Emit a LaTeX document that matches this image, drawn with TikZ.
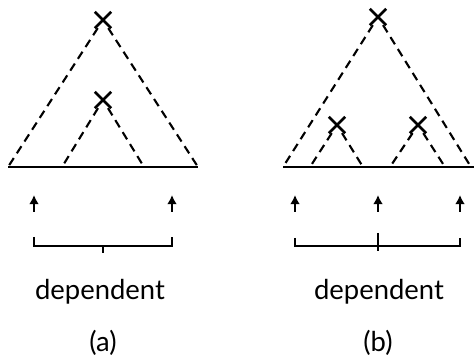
\documentclass[tikz,border=0pt]{standalone}
\usepackage{fontspec}
\setmainfont{Lato}
\usetikzlibrary{arrows.meta,shapes.misc}

\begin{document}
\begin{tikzpicture}[
  x=0.025cm,y=-0.025cm,
  >={Latex[length=6.5pt,width=7pt]},
  cross/.style={draw,cross out,line width=1.9pt,inner sep=0pt,minimum size=0.34cm},
  tri/.style={line width=1.5pt,dash pattern=on 6pt off 4pt},
  base/.style={line width=1.8pt},
  up/.style={->,line width=1.6pt},
  brace/.style={line width=1.5pt},
  label/.style={anchor=base,font=\fontsize{19.5}{22}\selectfont}
]
  \useasboundingbox (0,0) rectangle (474,360);

  % (a): one constituent inside another
  \node[cross] (a-top) at (103,20) {};
  \node[cross] (a-in) at (103,100) {};
  \coordinate (a-l) at (8,167);
  \coordinate (a-r) at (198,167);
  \coordinate (a-il) at (62,167);
  \coordinate (a-ir) at (144,167);
  \draw[base] (a-l) -- (a-r);
  \draw[tri] (a-top) -- (a-l);
  \draw[tri] (a-top) -- (a-r);
  \draw[tri] (a-in) -- (a-il);
  \draw[tri] (a-in) -- (a-ir);

  \coordinate (a-u1) at (34,212);
  \coordinate (a-u2) at (172,212);
  \coordinate (a-v1) at (34,195);
  \coordinate (a-v2) at (172,195);
  \draw[up] (a-u1) -- (a-v1);
  \draw[up] (a-u2) -- (a-v2);
  \draw[brace] (34,237) -- (34,246) -- (172,246) -- (172,237);
  \draw[brace] (103,246) -- (103,253);
  \node[label] (a-dep) at (100,300) {dependent};
  \node[label] (a-cap) at (103,351) {(a)};

  % (b): two constituents side by side
  \node[cross] (b-top) at (378,17) {};
  \node[cross] (b-in1) at (337,125) {};
  \node[cross] (b-in2) at (418,125) {};
  \coordinate (b-l) at (283,167);
  \coordinate (b-r) at (471,167);
  \coordinate (b-1l) at (310,167);
  \coordinate (b-1r) at (363,167);
  \coordinate (b-2l) at (390,167);
  \coordinate (b-2r) at (445,167);
  \draw[base] (b-l) -- (474,167);
  \draw[tri] (b-top) -- (b-l);
  \draw[tri] (b-top) -- (b-r);
  \draw[tri] (b-in1) -- (b-1l);
  \draw[tri] (b-in1) -- (b-1r);
  \draw[tri] (b-in2) -- (b-2l);
  \draw[tri] (b-in2) -- (b-2r);

  \foreach \x [count=\i] in {295,378,460} {
    \coordinate (b-u\i) at (\x,212);
    \coordinate (b-v\i) at (\x,195);
    \draw[up] (b-u\i) -- (b-v\i);
  }
  \draw[brace] (295,238) -- (295,246) -- (460,246) -- (460,238);
  \draw[brace] (378,233) -- (378,251);
  \node[label] (b-dep) at (379,300) {dependent};
  \node[label] (b-cap) at (378,351) {(b)};
\end{tikzpicture}
\end{document}
